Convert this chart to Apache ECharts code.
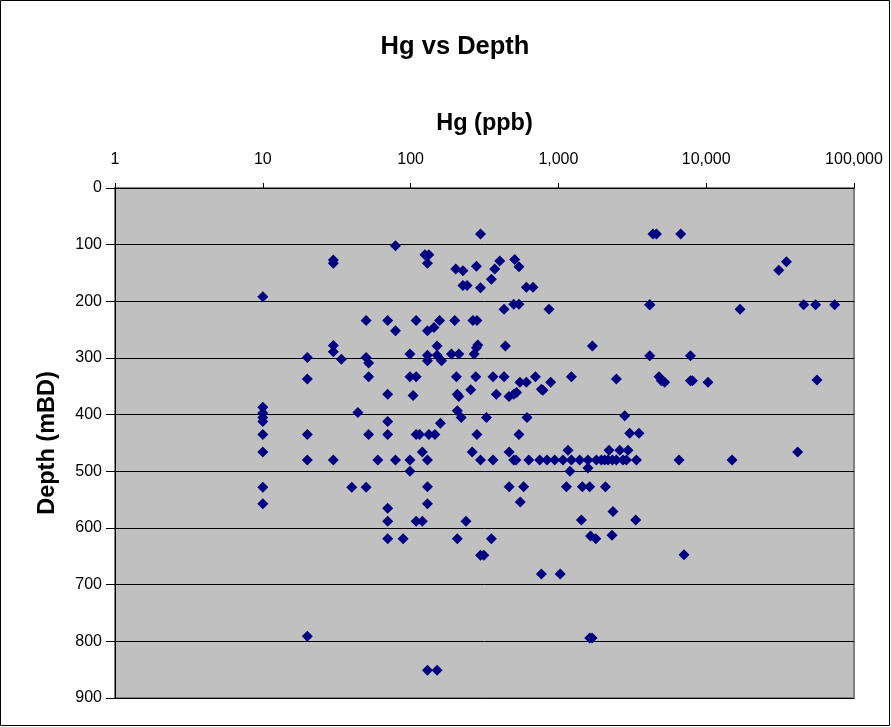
<!DOCTYPE html>
<html>
<head>
<meta charset="utf-8">
<title>Hg vs Depth</title>
<script src="https://cdn.jsdelivr.net/npm/echarts@6/dist/echarts.min.js"></script>
<style>
  html, body { margin: 0; padding: 0; background: #ffffff; }
  #chart { width: 891px; height: 727px; }
</style>
</head>
<body>
<div id="chart"></div>
<script>
// Mercury concentration (ppb) and sample depth (m below datum), paired by index
const hgPpb = [
  10, 10, 10, 10, 10, 10, 10, 10, 10,
  20, 20, 20, 20, 20,
  30, 30, 30, 30, 30,
  34, 40, 44,
  50, 50, 50,
  52, 52, 52,
  60,
  70, 70, 70, 70, 70, 70, 70,
  79, 79, 79,
  89,
  99, 99, 99, 99,
  104,
  109, 109, 109, 109,
  115,
  120, 120,
  125,
  130, 130, 130, 130, 130, 130, 130, 130,
  133, 133,
  144, 146,
  151, 151, 151,
  157, 159, 162,
  189, 199, 202, 204,
  207, 207, 207,
  212, 212,
  220, 226, 226, 237, 241, 255, 261, 264, 269, 276,
  279, 279,
  281, 281,
  285,
  297, 297, 297, 297,
  313, 326,
  352, 352,
  361, 361,
  371, 380, 401,
  429, 429,
  438, 463,
  464, 464,
  499, 499, 499,
  506, 516, 521,
  541, 541, 541,
  549, 552, 582,
  607, 607,
  613, 630, 673, 699, 747,
  767, 767,
  786, 837, 864, 887, 944, 1028, 1074, 1133, 1161, 1197,
  1224, 1224,
  1393, 1431, 1453,
  1585, 1585,
  1628, 1628,
  1650, 1690, 1698, 1792, 1807, 1954, 2057, 2080, 2168, 2200, 2306, 2318, 2340,
  2468, 2468,
  2600, 2735, 2810, 2885, 2958, 3035, 3335, 3373, 3510,
  4150, 4150, 4150,
  4365, 4604, 4795, 4975, 5240, 6546, 6718, 7080,
  7820, 7820,
  8070, 10280, 14960, 16940, 30960, 34900, 41600, 45700, 55000, 56200, 74000
];

const depthM = [
  192, 387, 397, 405, 412, 435, 466, 528, 557,
  299, 337, 435, 480, 791,
  127, 133, 278, 289, 480,
  302, 528, 396,
  234, 299, 528,
  309, 333, 435,
  480,
  234, 364, 412, 435, 565, 588, 619,
  102, 252, 480,
  619,
  293, 333, 480, 500,
  366,
  234, 333, 435, 588,
  435,
  466, 588,
  118,
  133, 252, 295, 305, 480, 527, 557, 851,
  118, 435,
  246, 435,
  279, 295, 851,
  234, 415, 305,
  293, 234, 143, 333,
  364, 393, 619,
  293, 368,
  405, 146, 172, 588, 172, 356, 466, 234, 293, 333,
  138, 282,
  234, 435,
  277,
  81, 176, 480, 648,
  648, 405,
  161, 619,
  333, 480,
  143, 364, 129,
  214, 333,
  279, 368,
  466, 527,
  205, 364, 480,
  126, 480, 361,
  139, 205, 435,
  343, 554, 527,
  175, 343,
  405, 480, 175, 333, 480,
  355, 681,
  357, 480, 214, 343, 480, 681, 480, 527, 463, 500,
  333, 480,
  480, 586, 527,
  480, 494,
  527, 794,
  614, 794, 279, 619, 480, 480, 480, 527, 480, 463, 613, 480, 571,
  337, 480,
  463, 480, 402, 480, 463, 433, 586, 480, 433,
  206, 206, 296,
  81, 81, 333, 340, 343, 480, 81, 647,
  296, 340,
  340, 343, 480, 214, 145, 130, 466, 206, 206, 339, 206
];

const hgTicks = [1, 10, 100, 1000, 10000, 100000];
const depthTicks = [0, 100, 200, 300, 400, 500, 600, 700, 800, 900];

const points = hgPpb.map((v, i) => [v, depthM[i]]);

const FONT = 'Liberation Sans, Arial, sans-serif';
const chart = echarts.init(document.getElementById('chart'), null, { renderer: 'canvas' });

chart.setOption({
  backgroundColor: '#ffffff',
  animation: false,
  title: {
    text: 'Hg vs Depth',
    left: 450,
    textAlign: 'center',
    top: 29,
    textStyle: { fontFamily: FONT, fontWeight: 'bold', fontSize: 25.5, color: '#000000' }
  },
  graphic: [{
    type: 'rect',
    shape: { x: 0.5, y: 0.5, width: 889, height: 725 },
    style: { fill: null, stroke: '#000000', lineWidth: 1 },
    silent: true
  }],
  grid: {
    left: 115,
    top: 188,
    right: 37,
    bottom: 29,
    show: true,
    backgroundColor: '#c0c0c0',
    borderColor: '#808080',
    borderWidth: 2
  },
  xAxis: {
    type: 'log',
    logBase: 10,
    position: 'top',
    min: hgTicks[0],
    max: hgTicks[hgTicks.length - 1],
    name: 'Hg (ppb)',
    nameLocation: 'middle',
    nameGap: 52,
    nameTextStyle: { fontFamily: FONT, fontWeight: 'bold', fontSize: 23.5, color: '#000000' },
    axisLine: { show: true, lineStyle: { color: '#000000', width: 1 } },
    axisTick: { show: true, inside: false, length: 5, lineStyle: { color: '#000000' } },
    axisLabel: {
      margin: 20,
      fontFamily: FONT,
      fontSize: 16,
      color: '#000000',
      formatter: v => Math.round(v).toLocaleString('en-US')
    },
    splitLine: { show: false },
    minorTick: { show: false }
  },
  yAxis: {
    type: 'value',
    inverse: true,
    min: depthTicks[0],
    max: depthTicks[depthTicks.length - 1],
    interval: 100,
    name: 'Depth (mBD)',
    nameLocation: 'middle',
    nameGap: 55,
    nameRotate: 90,
    nameTextStyle: { fontFamily: FONT, fontWeight: 'bold', fontSize: 23.5, color: '#000000' },
    axisLine: { show: true, lineStyle: { color: '#000000', width: 1 } },
    axisTick: { show: true, inside: false, length: 9, lineStyle: { color: '#000000' } },
    axisLabel: { margin: 13, fontFamily: FONT, fontSize: 16, color: '#000000' },
    splitLine: { show: true, lineStyle: { color: '#000000', width: 1 } }
  },
  series: [{
    type: 'scatter',
    data: points,
    symbol: 'diamond',
    symbolSize: 11,
    itemStyle: { color: '#000080', opacity: 1 },
    emphasis: { disabled: true },
    z: 5
  }]
});
</script>
</body>
</html>
